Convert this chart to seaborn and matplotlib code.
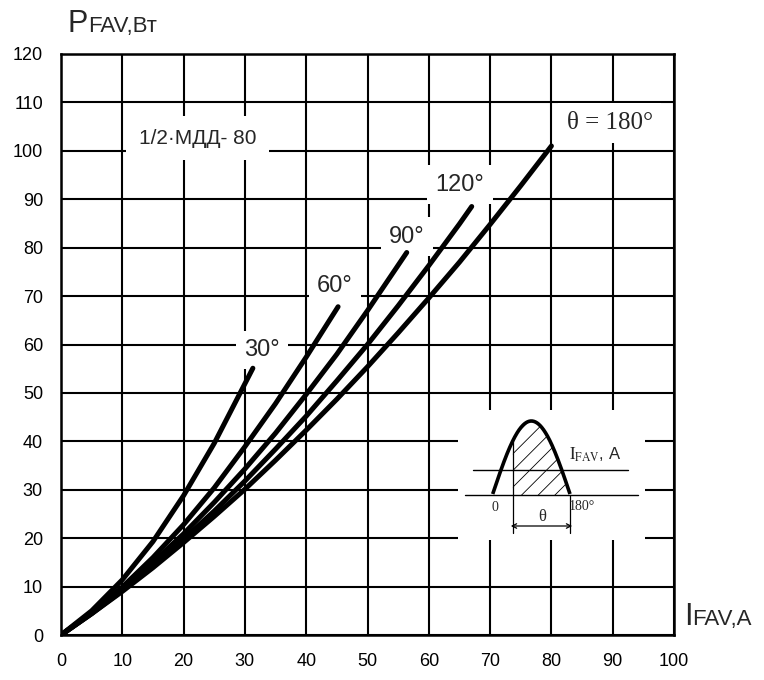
import numpy as np
import pandas as pd
import matplotlib
matplotlib.use("Agg")
import matplotlib.pyplot as plt
import seaborn as sns

# ---- data ----
i_30 = [0, 5, 10, 15, 20, 25, 31.3]
p_30 = [0, 5.0, 11.4, 19.3, 28.8, 39.6, 55.1]
i_60 = [0, 5, 10, 15, 20, 25, 30, 35, 40, 45.2]
p_60 = [0, 4.6, 9.9, 16.0, 22.8, 30.4, 38.9, 47.8, 57.4, 67.8]
i_90 = [0, 5, 10, 15, 20, 25, 30, 35, 40, 45, 50, 56.4]
p_90 = [0, 4.5, 9.5, 15.0, 20.9, 27.4, 34.3, 41.7, 49.7, 58.0, 67.0, 79.0]
i_120 = [0, 5, 10, 15, 20, 25, 30, 35, 40, 45, 50, 55, 60, 65, 67]
p_120 = [0, 4.4, 9.2, 14.3, 19.8, 25.6, 31.8, 38.4, 45.2, 52.5, 60.0, 68.0, 76.3, 84.9, 88.5]
i_180 = [0, 5, 10, 15, 20, 25, 30, 35, 40, 45, 50, 55, 60, 65, 70, 75, 80]
p_180 = [0, 4.4, 9.0, 13.9, 19.1, 24.5, 30.1, 36.1, 42.3, 48.7, 55.4, 62.4, 69.6, 77.0, 84.8, 92.8, 101.0]

angles = ["30°", "60°", "90°", "120°", "180°"]
x_ticks = [0, 10, 20, 30, 40, 50, 60, 70, 80, 90, 100]
y_ticks = [0, 10, 20, 30, 40, 50, 60, 70, 80, 90, 100, 110, 120]

series = {"30°": (i_30, p_30), "60°": (i_60, p_60), "90°": (i_90, p_90),
          "120°": (i_120, p_120), "180°": (i_180, p_180)}
df = pd.concat([pd.DataFrame({"I": s[0], "P": s[1], "angle": k}) for k, s in series.items()],
               ignore_index=True)

sns.set_style("white")
plt.rcParams["font.family"] = ["Liberation Sans Narrow", "Liberation Sans", "DejaVu Sans"]
plt.rcParams["mathtext.fontset"] = "stix"
plt.rcParams["hatch.linewidth"] = 0.6

W, H = 764, 680
fig = plt.figure(figsize=(W / 100, H / 100), dpi=100)
L, R, T, B = 61, 674, 54, 635
ax = fig.add_axes([L / W, 1 - B / H, (R - L) / W, (B - T) / H])

sns.lineplot(data=df, x="I", y="P", hue="angle", hue_order=angles,
             palette=["black"] * 5, estimator=None, sort=False, legend=False,
             linewidth=3.6, ax=ax, zorder=5, solid_capstyle="round")

ax.set_xlim(0, 100)
ax.set_ylim(0, 120)
ax.set_xticks(x_ticks)
ax.set_yticks(y_ticks)
ax.set_xlabel("")
ax.set_ylabel("")
ax.grid(True, color="black", linewidth=1.5)
ax.set_axisbelow(True)
for sp in ax.spines.values():
    sp.set_color("black")
    sp.set_linewidth(1.8)
ax.tick_params(direction="out", length=6, width=1.5, colors="black",
               labelsize=13, pad=7)

# curve labels with white boxes
lab_kw = dict(ha="center", va="center", zorder=4,
              bbox=dict(boxstyle="square,pad=0.35", fc="white", ec="none"))
ax.text(32.8, 58.9, "30°", fontsize=17, **lab_kw)
ax.text(44.7, 72.0, "60°", fontsize=17, **lab_kw)
ax.text(56.4, 82.3, "90°", fontsize=17, **lab_kw)
ax.text(65.1, 93.0, "120°", fontsize=17, **lab_kw)
ax.text(89.5, 105.8, "θ = 180°", fontsize=18, family=["Liberation Serif", "DejaVu Serif"], **lab_kw)
ax.text(22.3, 102.6, "1/2·МДД- 80", fontsize=15, ha="center", va="center", zorder=4,
        bbox=dict(boxstyle="square,pad=0.6", fc="white", ec="none"))

# axis titles
fig.text(68 / W, 1 - 32 / H, "P", fontsize=22, ha="left", va="baseline")
fig.text(88 / W, 1 - 32 / H, "FAV,Вт", fontsize=16, ha="left", va="baseline")
fig.text(684 / W, 1 - 625 / H, "I", fontsize=22, ha="left", va="baseline")
fig.text(692 / W, 1 - 625 / H, "FAV,A", fontsize=16, ha="left", va="baseline")

# inset schematic (drawn in pixel-like coordinates)
x0, x1, y0, y1 = 458, 645, 410, 540
ins = fig.add_axes([x0 / W, 1 - y1 / H, (x1 - x0) / W, (y1 - y0) / H], zorder=10)
ins.set_xlim(x0, x1)
ins.set_ylim(y1, y0)
ins.set_facecolor("white")
ins.axis("off")
ins.add_patch(plt.Rectangle((x0, y0), x1 - x0, y1 - y0, fc="white", ec="none", zorder=0))
ins.plot([465, 638], [495, 495], color="black", lw=1.0)
ins.plot([473, 628], [470, 470], color="black", lw=1.0)
xs = np.linspace(492.7, 570, 200)
ys = 494 - 73 * np.sin(np.pi * (xs - 492.7) / 77.3)
ins.plot(xs, ys, color="black", lw=2.6, solid_capstyle="butt")
m = xs >= 512.7
ins.fill_between(xs[m], ys[m], 495, facecolor="none", edgecolor="black", hatch="//", lw=0)
ins.plot([512.7, 512.7], [440.5, 533], color="black", lw=0.9)
ins.plot([569.5, 569.5], [495, 533], color="black", lw=0.9)
ins.annotate("", xy=(508, 526), xytext=(575, 526),
             arrowprops=dict(arrowstyle="<->", lw=0.9, color="black", mutation_scale=8))
serif = ["Liberation Serif", "DejaVu Serif"]
ins.text(541.7, 517, "θ", fontsize=12, family=serif, ha="center", va="center")
ins.text(495, 507, "0", fontsize=10, family=serif, ha="center", va="center")
ins.text(582, 506, "180°", fontsize=10, family=serif, ha="center", va="center")
ins.text(569, 455, r"$\mathrm{I_{FAV}}$, A", fontsize=12, ha="left", va="center")

fig.savefig("out.png", dpi=100, facecolor="white")
